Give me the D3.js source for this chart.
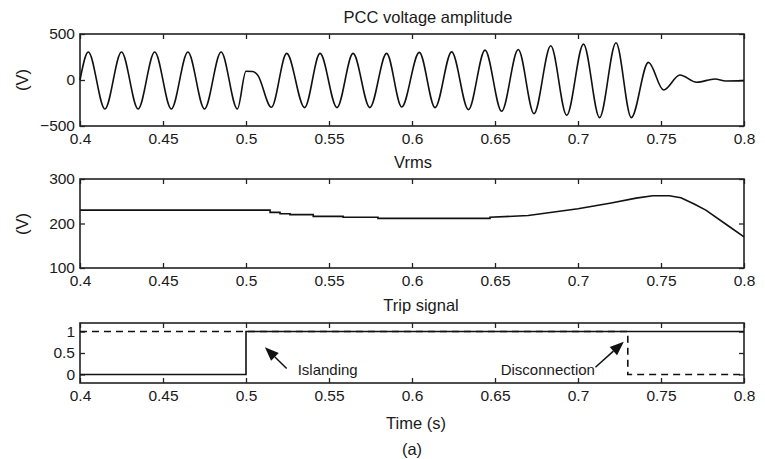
<!DOCTYPE html>
<html>
<head>
<meta charset="utf-8">
<script src="https://cdn.jsdelivr.net/npm/d3@7"></script>
<style>
body{margin:0;background:#fff;}
svg{font-family:"Liberation Sans",Arial,sans-serif;}
.tk text{font-size:15.5px;fill:#1a1a1a;}
.tk line{stroke:#222;stroke-width:1.3;}
.ttl{font-size:16.5px;fill:#1a1a1a;text-anchor:middle;}
.ann{font-size:15px;fill:#1a1a1a;}
</style>
</head>
<body>
<div id="root"></div>
<script>
// data

// PCC voltage: extrema (time s, volts)
var pccT=[0.4,0.405,0.415,0.425,0.435,0.445,0.455,0.465,0.475,0.485,0.4948,0.5,0.504,0.507,0.5153,0.5245,0.5353,0.5446,0.5548,0.5645,0.5746,0.5847,0.5938,0.6044,0.6139,0.6239,0.634,0.644,0.654,0.664,0.6735,0.6836,0.6932,0.7033,0.713,0.7229,0.7321,0.7424,0.7516,0.7614,0.7715,0.7825,0.789,0.8];
var pccV=[0,305,-315,305,-315,305,-315,305,-315,305,-315,95,92,55,-297,289,-300,289,-300,289,-300,289,-293,300,-300,306,-322,325,-340,332,-365,372,-384,390,-409,405,-409,192,-109,54,-25,11,-11,-7];

// Vrms
var vrmsT=[0.4,0.5145,0.5145,0.5205,0.5205,0.5265,0.5265,0.5405,0.5405,0.5585,0.5585,0.5795,0.5795,0.647,0.647,0.67,0.7,0.72,0.735,0.745,0.755,0.762,0.77,0.777,0.79,0.8];
var vrmsV=[230,230,225,225,222,222,220,220,216,216,214,214,211.5,211.5,214,218,233,246,257,262.5,262.5,258,244,230,196,170];

// trip signals
var tripT=[0.4,0.5,0.5,0.8];
var tripV=[0,0,1,1];
var discT=[0.4,0.73,0.73,0.8];
var discV=[1,1,0,0];

var xTicks=[0.4,0.45,0.5,0.55,0.6,0.65,0.7,0.75,0.8];
var y1Ticks=[-500,0,500];
var y2Ticks=[100,200,300];
var y3Ticks=[0,0.5,1];

// annotations [tailT, tailV, tipT, tipV]
var arrows=[[0.5245,0.139,0.5114,0.637],[0.7105,0.169,0.7276,0.762]];
var notes=[{t:0.5311,v:0.1,txt:'Islanding',anchor:'start'},{t:0.7102,v:0.1,txt:'Disconnection',anchor:'end'}];

var W=765,H=459;
var svg=d3.select('#root').append('svg').attr('width',W).attr('height',H);
svg.append('rect').attr('width',W).attr('height',H).attr('fill','#fff');

var scaleX=d3.scaleLinear().domain([0.4,0.8]).range([80,744]);

function zip(t,v){return t.map(function(d,i){return {t:d,v:v[i]}})}

function panel(y0,y1,domain,ticks,fmt){
	var sy=d3.scaleLinear().domain(domain).range([y1,y0]);
	var g=svg.append('g');
	g.append('g').attr('class','tk').attr('transform','translate(0,'+y1+')')
		.call(d3.axisBottom(scaleX).tickValues(xTicks).tickSizeInner(-5).tickSizeOuter(0).tickPadding(7).tickFormat(d3.format('')));
	g.append('g').attr('class','tk').attr('transform','translate(0,'+y0+')')
		.call(d3.axisTop(scaleX).tickValues(xTicks).tickSizeInner(-5).tickSizeOuter(0).tickFormat(''));
	g.append('g').attr('class','tk').attr('transform','translate(80,0)')
		.call(d3.axisLeft(sy).tickValues(ticks).tickSizeInner(-5).tickSizeOuter(0).tickPadding(5).tickFormat(fmt));
	g.append('g').attr('class','tk').attr('transform','translate(744,0)')
		.call(d3.axisRight(sy).tickValues(ticks).tickSizeInner(-5).tickSizeOuter(0).tickFormat(''));
	g.selectAll('.domain').remove();
	g.append('rect').attr('x',80).attr('y',y0).attr('width',664).attr('height',y1-y0)
		.attr('fill','none').attr('stroke','#222').attr('stroke-width',1.6);
	return {g:g,y:sy};
}

var p1=panel(34,126,[-500,500],y1Ticks,d3.format(''));
var p2=panel(179,268,[100,300],y2Ticks,d3.format(''));
var p3=panel(323,383,[-0.2,1.2],y3Ticks,d3.format(''));

var line1=d3.line().x(function(d){return scaleX(d.t)}).y(function(d){return p1.y(d.v)}).curve(d3.curveMonotoneX);
p1.g.append('path').attr('d',line1(zip(pccT,pccV))).attr('fill','none').attr('stroke','#111').attr('stroke-width',1.6);

var line2=d3.line().x(function(d){return scaleX(d.t)}).y(function(d){return p2.y(d.v)});
p2.g.append('path').attr('d',line2(zip(vrmsT,vrmsV))).attr('fill','none').attr('stroke','#111').attr('stroke-width',1.6);

var line3=d3.line().x(function(d){return scaleX(d.t)}).y(function(d){return p3.y(d.v)});
p3.g.append('path').attr('d',line3(zip(tripT,tripV))).attr('fill','none').attr('stroke','#111').attr('stroke-width',1.6);
p3.g.append('path').attr('d',line3(zip(discT,discV))).attr('fill','none').attr('stroke','#111').attr('stroke-width',1.6).attr('stroke-dasharray','7,5');

// arrows
arrows.forEach(function(a){
	var x0=scaleX(a[0]),y0=p3.y(a[1]),x1=scaleX(a[2]),y1=p3.y(a[3]);
	var ang=Math.atan2(y1-y0,x1-x0),hl=14,hw=5.5;
	var bx=x1-hl*Math.cos(ang),by=y1-hl*Math.sin(ang);
	svg.append('line').attr('x1',x0).attr('y1',y0).attr('x2',bx).attr('y2',by).attr('stroke','#111').attr('stroke-width',1.5);
	var px=-Math.sin(ang)*hw,py=Math.cos(ang)*hw;
	svg.append('path').attr('d','M'+x1+','+y1+'L'+(bx+px)+','+(by+py)+'L'+(bx-px)+','+(by-py)+'Z').attr('fill','#111');
});
notes.forEach(function(n){
	svg.append('text').attr('class','ann').attr('x',scaleX(n.t)).attr('y',p3.y(n.v)).attr('dy','0.35em')
		.attr('text-anchor',n.anchor).text(n.txt);
});

// titles
svg.append('text').attr('class','ttl').attr('x',428).attr('y',17).attr('dy','0.35em').text('PCC voltage amplitude');
svg.append('text').attr('class','ttl').attr('x',413).attr('y',162).attr('dy','0.35em').text('Vrms');
svg.append('text').attr('class','ttl').attr('x',421).attr('y',305).attr('dy','0.35em').text('Trip signal');
svg.append('text').attr('class','ttl').attr('x',416).attr('y',423).attr('dy','0.35em').text('Time (s)');
svg.append('text').attr('class','ttl').attr('x',412).attr('y',449).attr('dy','0.35em').text('(a)');
svg.append('text').attr('class','ttl').attr('transform','translate(22,80) rotate(-90)').attr('dy','0.35em').text('(V)');
svg.append('text').attr('class','ttl').attr('transform','translate(22,224) rotate(-90)').attr('dy','0.35em').text('(V)');
</script>
</body>
</html>
